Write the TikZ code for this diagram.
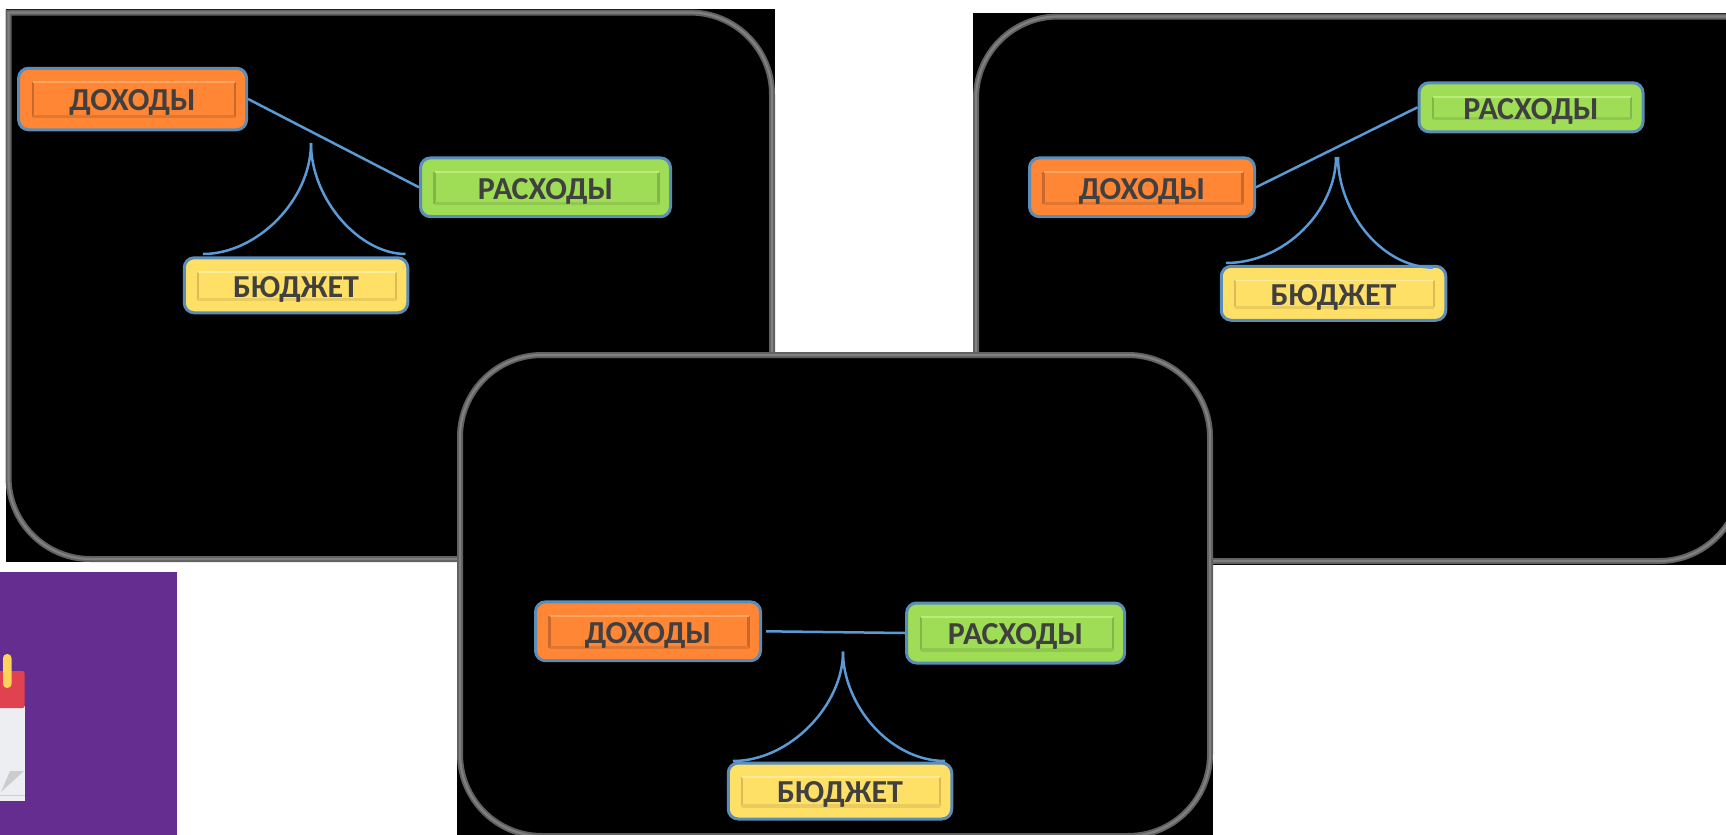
\documentclass[tikz,border=0pt]{standalone}
\usepackage{fontspec}
\setmainfont{Carlito}
\definecolor{linkblue}{HTML}{5B9BD5}
\definecolor{edgeblue}{HTML}{5A8DB8}
\definecolor{textgray}{HTML}{404040}
\definecolor{plum}{HTML}{642D8F}
\definecolor{calred}{HTML}{E0424F}
\definecolor{calpin}{HTML}{FCD25A}
\definecolor{calpage}{HTML}{ECEEF2}
\definecolor{incomefill}{HTML}{FF8635}
\definecolor{incomedark}{HTML}{C8682C}
\definecolor{incomelight}{HTML}{FFA566}
\definecolor{costfill}{HTML}{9EDD55}
\definecolor{costdark}{HTML}{82B54A}
\definecolor{costlight}{HTML}{B9EC78}
\definecolor{planfill}{HTML}{FFE066}
\definecolor{plandark}{HTML}{D9BC58}
\definecolor{planlight}{HTML}{FFEC9A}
\tikzset{
	budgetbox/.style n args={3}{draw=edgeblue, line width=1.5pt, rounded corners=5pt, fill=#1, inner sep=0pt,
		text=textgray, font=\fontsize{16}{16}\selectfont\bfseries, text height=11.8pt, text depth=0pt,
		path picture={
			\draw[#2, line width=1.1pt] ([shift={(14,14)}]path picture bounding box.north west) -- ([shift={(14,-13)}]path picture bounding box.south west);
			\draw[#2, line width=1.1pt] ([shift={(-12,14)}]path picture bounding box.north east) -- ([shift={(-12,-13)}]path picture bounding box.south east);
			\draw[#2!55!#1, line width=1.6pt] ([shift={(14,-13)}]path picture bounding box.south west) -- ([shift={(-12,-13)}]path picture bounding box.south east);
			\draw[#3, line width=0.8pt] ([shift={(14,14)}]path picture bounding box.north west) -- ([shift={(-12,14)}]path picture bounding box.north east);
		}},
	incomebox/.style={budgetbox={incomefill}{incomedark}{incomelight}},
	costbox/.style={budgetbox={costfill}{costdark}{costlight}},
	planbox/.style={budgetbox={planfill}{plandark}{planlight}},
	linkline/.style={draw=linkblue, line width=1.25pt},
	panelline/.style={draw=black!62, line width=3pt, postaction={draw=black!50, line width=1.1pt}}
}
\begin{document}
\begin{tikzpicture}[x=0.5pt, y=-0.5pt]
	\clip (0,0) rectangle (1726,835);
	
	%panels
	\fill[black] (6,9) rectangle (775,562);
	\draw[panelline, rounded corners=41pt] (8.5,300) [sharp corners] -- (8.5,12.5) -- (400,12.5) [rounded corners=41pt] -- (772,12.5) -- (772,559) -- (8.5,559) -- cycle;
	
	\fill[black] (973,13) rectangle (1726,565);
	\draw[panelline, rounded corners=41pt] (1760,16.5) -- (976,16.5) -- (976,561) -- (1741,561) -- (1741,400);
	
	\fill[black] (457,352) rectangle (1213,835);
	\draw[panelline, rounded corners=41pt] (460,355) rectangle (1210,836);
	
	%calendar
	\fill[plum] (0,572) rectangle (177,835);
	\fill[calpage] (0,706) rectangle (24.5,800.5);
	\draw[black!20, line width=0.4pt] (0,795) -- (24.5,795);
	\fill[black!20] (10,771) -- (24,771) -- (1,792) -- cycle;
	\fill[calred, rounded corners=1pt] (-5,671) -- (24.5,671) -- (24.5,708) -- (-5,708) -- cycle;
	\fill[calpin, rounded corners=2pt] (3,654) rectangle (11.5,688);
	
	%first panel
	\node[incomebox, minimum width=114pt, minimum height=30.75pt] (dohodA) at (132.6,99) {ДОХОДЫ};
	\node[costbox, minimum width=125pt, minimum height=29.4pt] (rashodA) at (545.5,187.3) {РАСХОДЫ};
	\node[planbox, minimum width=111.75pt, minimum height=27.5pt] (budgetA) at (296,285.3) {БЮДЖЕТ};
	\coordinate (peakA) at (311,143);
	\coordinate (leftA) at (203,254);
	\coordinate (rightA) at (405.5,254);
	\draw[linkline] (dohodA.east) -- (rashodA.west);
	\draw[linkline] (peakA) .. controls (311,200) and (257,254) .. (leftA);
	\draw[linkline] (peakA) .. controls (311,200) and (360,254) .. (rightA);
	
	%second panel
	\node[incomebox, minimum width=112.5pt, minimum height=29.4pt] (dohodB) at (1142,187.3) {ДОХОДЫ};
	\node[costbox, minimum width=112pt, minimum height=24.5pt] (rashodB) at (1531,107.3) {РАСХОДЫ};
	\node[planbox, minimum width=112.25pt, minimum height=27pt] (budgetB) at (1333.5,293.3) {БЮДЖЕТ};
	\coordinate (peakB) at (1336,157);
	\coordinate (peakBb) at (1338,157);
	\coordinate (leftB) at (1226,263);
	\coordinate (rightB) at (1433,267.7);
	\draw[linkline] (dohodB.east) -- (rashodB.west);
	\draw[linkline] (peakB) .. controls (1336,210) and (1285,263) .. (leftB);
	\draw[linkline] (peakBb) .. controls (1338,210) and (1380,267) .. (rightB);
	
	%third panel
	\node[incomebox, minimum width=112.5pt, minimum height=29.4pt] (dohodC) at (648,631.3) {ДОХОДЫ};
	\node[costbox, minimum width=109pt, minimum height=30pt] (rashodC) at (1015.6,633) {РАСХОДЫ};
	\node[planbox, minimum width=111.75pt, minimum height=28pt] (budgetC) at (840,791) {БЮДЖЕТ};
	\coordinate (peakC) at (843,651.7);
	\coordinate (leftC) at (733,761);
	\coordinate (rightC) at (945,761);
	\draw[linkline] ([xshift=2pt]dohodC.east) -- (rashodC.west);
	\draw[linkline] (peakC) .. controls (843,705) and (790,761) .. (leftC);
	\draw[linkline] (peakC) .. controls (843,705) and (890,761) .. (rightC);
\end{tikzpicture}
\end{document}
